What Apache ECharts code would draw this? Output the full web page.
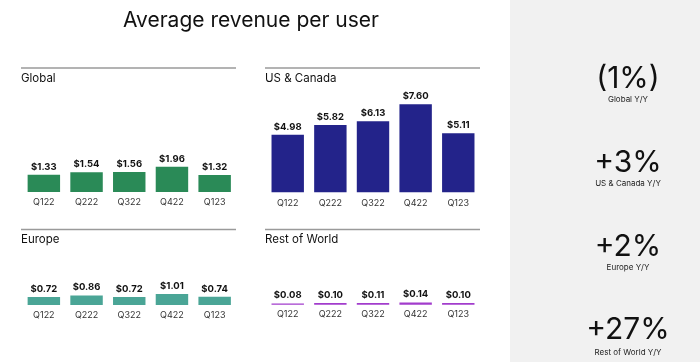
<!DOCTYPE html>
<html><head><meta charset="utf-8">
<script src="https://cdn.jsdelivr.net/npm/echarts@6/dist/echarts.min.js"></script>
<style>html,body{margin:0;padding:0;background:#fff}#c{width:700px;height:362px}</style>
</head><body><div id="c"></div>
<script>
const categories = ['Q122','Q222','Q322','Q422','Q123'];
const globalVals = [1.33, 1.54, 1.56, 1.96, 1.32];
const usCanadaVals = [4.98, 5.82, 6.13, 7.60, 5.11];
const europeVals = [0.72, 0.86, 0.72, 1.01, 0.74];
const rowVals = [0.08, 0.10, 0.11, 0.14, 0.10];
const panelNames = ['Global', 'US & Canada', 'Europe', 'Rest of World'];
const yoyValues = ['(1%)', '+3%', '+2%', '+27%'];
const yoyLabels = ['Global Y/Y', 'US & Canada Y/Y', 'Europe Y/Y', 'Rest of World Y/Y'];

const FONT = 'Inter, "Noto Sans", sans-serif';
const panels = [
  {vals: globalVals, color: '#2a8a57', grid: {left: 22.5, top: 140.4, width: 213.5, height: 51.6}, max: 4, lx: 21, ly: 79, line: [21, 68, 236]},
  {vals: usCanadaVals, color: '#23238a', grid: {left: 266.4, top: 99.7, width: 213.2, height: 92.6}, max: 8, lx: 265, ly: 79, line: [265, 68, 480]},
  {vals: europeVals, color: '#4aa596', grid: {left: 22.5, top: 283, width: 213.5, height: 22}, max: 2, lx: 21, ly: 240, line: [21, 229.5, 236]},
  {vals: rowVals, color: '#a23ccc', grid: {left: 266.4, top: 272.7, width: 213.2, height: 32}, max: 2, lx: 265, ly: 240, line: [265, 229.5, 480]}
];

const grids = [], xAxes = [], yAxes = [], series = [], graphics = [];
panels.forEach((p, i) => {
  grids.push(Object.assign({}, p.grid));
  xAxes.push({type: 'category', gridIndex: i, data: categories,
    axisLine: {show: false}, axisTick: {show: false},
    axisLabel: {color: '#333', fontSize: 9, fontFamily: FONT, margin: i < 2 ? 6 : 5.5}});
  yAxes.push({type: 'value', gridIndex: i, min: 0, max: p.max, show: false, splitLine: {show: false}});
  series.push({type: 'bar', xAxisIndex: i, yAxisIndex: i, data: p.vals, barCategoryGap: '24%',
    itemStyle: {color: p.color}, silent: true,
    label: {show: true, position: 'top', distance: 3, color: '#111', fontSize: 9.5, fontWeight: 'bold', fontFamily: FONT,
      formatter: (d) => '$' + d.value.toFixed(2)}});
  graphics.push({type: 'line', shape: {x1: p.line[0], y1: p.line[1], x2: p.line[2], y2: p.line[1]},
    style: {stroke: '#9a9a9a', lineWidth: 1.5}});
  graphics.push({type: 'text', x: p.lx, y: p.ly, style: {text: panelNames[i], fill: '#111', font: '11.5px ' + FONT, textVerticalAlign: 'middle'}});
});

graphics.unshift({type: 'rect', shape: {x: 510, y: 0, width: 190, height: 362}, style: {fill: '#f1f1f1'}, z: -1});
graphics.push({type: 'text', x: 251, y: 21, style: {text: 'Average revenue per user', fill: '#111', font: '21px ' + FONT, textAlign: 'center', textVerticalAlign: 'middle'}});
const bigY = [79, 163, 247, 330], smallY = [99.5, 184, 268, 352.5];
yoyValues.forEach((v, i) => {
  graphics.push({type: 'text', x: 628, y: bigY[i], style: {text: v, fill: '#111', font: '30px ' + FONT, textAlign: 'center', textVerticalAlign: 'middle'}});
  graphics.push({type: 'text', x: 628, y: smallY[i], style: {text: yoyLabels[i], fill: '#222', font: '8px ' + FONT, textAlign: 'center', textVerticalAlign: 'middle'}});
});

const chart = echarts.init(document.getElementById('c'));
chart.setOption({animation: false, grid: grids, xAxis: xAxes, yAxis: yAxes, series: series, graphic: graphics});
</script></body></html>
